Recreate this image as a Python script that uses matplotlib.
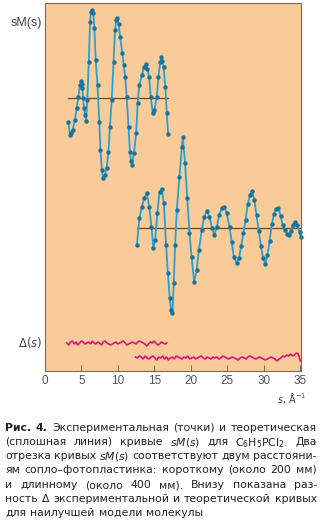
import numpy as np
import matplotlib
matplotlib.use("Agg")
import matplotlib.pyplot as plt

# upper sM(s) segment (short distance), values relative to its baseline
s_short = [3.2, 3.43, 3.6, 3.8, 4.1, 4.35, 4.57, 4.8, 4.94, 5.05, 5.13, 5.22, 5.35, 5.49, 5.63,
           5.8, 6.0, 6.18, 6.3, 6.45, 6.63, 6.77, 6.95, 7.2, 7.45, 7.6, 7.8, 7.96, 8.2, 8.45,
           8.7, 8.9, 9.15, 9.4, 9.6, 9.75, 9.93, 10.1, 10.3, 10.6, 10.8, 11.0, 11.2, 11.45,
           11.65, 11.8, 11.94, 12.2, 12.5, 12.7, 12.95, 13.27, 13.6, 13.86, 14.05, 14.27, 14.5,
           14.78, 15.0, 15.33, 15.55, 15.8, 15.95, 16.1, 16.25, 16.5, 16.7, 16.88]
sm_short = [-24, -37, -35, -32, -22, -10, 1, 13, 17, 14, 10, 0, -10, -17, -23,
            -2, 36, 76, 86, 88, 85, 70, 38, 13, -24, -52, -72, -80, -77, -70,
            -54, -29, -2, 36, 68, 78, 80, 74, 61, 45, 33, 21, 1, -29,
            -54, -63, -67, -55, -35, -5, 13, 23, 31, 34, 29, 21, 1,
            -15, -12, 1, 21, 36, 41, 37, 31, 11, -15, -36]

# lower sM(s) segment (long distance)
s_long = [12.6, 12.95, 13.27, 13.6, 13.95, 14.3, 14.6, 14.86, 15.1, 15.4, 15.7, 16.0, 16.3,
          16.6, 16.85, 17.1, 17.3, 17.47, 17.65, 17.84, 18.07, 18.43, 18.76, 18.9, 19.2,
          19.5, 19.8, 20.1, 20.45, 20.8, 21.1, 21.5, 21.8, 22.2, 22.55, 22.9, 23.2, 23.55,
          23.9, 24.25, 24.6, 24.9, 25.3, 25.6, 25.9, 26.3, 26.6, 26.9, 27.2, 27.5, 27.8,
          28.1, 28.4, 28.7, 29.0, 29.3, 29.6, 29.9, 30.2, 30.5, 30.8, 31.1, 31.4, 31.7,
          32.0, 32.3, 32.6, 32.9, 33.2, 33.4, 33.7, 34.0, 34.3, 34.6, 34.9, 35.1]
sm_long = [-17, 10, 21, 30, 35, 21, 1, -20, -12, 15, 36, 39, 25,
           -17, -45, -70, -82, -85, -55, -17, 18, 51, 81, 91, 65,
           30, -5, -29, -54, -42, -22, -2, 11, 17, 11, 0, -7, 1,
           13, 20, 21, 15, 1, -14, -29, -35, -30, -18, -5, 8, 24,
           33, 37, 28, 13, -3, -18, -30, -36, -27, -13, 4, 14, 19,
           20, 12, 3, -2, -6, -7, -3, 3, 6, 3, -4, -9]

# residuals Delta(s)
d_short = [0, -2, 1, 2, -1, 1, -2, 0, 2, 1, -1, 0, 1, -1, 2, 0, -1, 1, 0, -2, 1, 2, 0, -1,
           -2, -1, 0, 1, -1, 0, 1, 2, 0, -2, -1, 0, 1, 0, -1, 1, 2, 1, 0, -1, -3, -1, 1, 0,
           2, 0, -2, -1, 1, 0, -1, 0]
d_long = [1, 0, 2, 1, -1, 2, 0, -1, 1, 2, 0, -2, 1, 0, 2, -1, 1, -2, 0, 1, -1, 2, 1, 0,
          -1, 1, 0, 2, -1, 0, 1, -1, 0, 1, 2, 0, -1, 1, 0, -1, 1, 0, 1, -1, 0, 2, 1, 0,
          -1, 0, 1, 0, -1, -2, 0, 1, 0, -1, 1, 2, 1, 0, -1, 0, 1, 0, -1, -2, -1, 0, 1, 0,
          -1, -3, -1, 0, 2, 1, 3, 2, 4, 2, 3, 5, 4, -3]

xticks = [0, 5, 10, 15, 20, 25, 30, 35]

# vertical offsets of the four traces
off_short, off_long, off_d1, off_d2 = 273, 143, 28, 13

bg = "#F9CB98"
blue = "#2A9FD2"
dot = "#16759F"
base = "#6B4A2B"
mag = "#E0157C"
frame = "#7A6A5A"

fig = plt.figure(figsize=(3.2, 5.28), dpi=100)
ax = fig.add_axes([45 / 320, 157 / 528, 256 / 320, 368 / 528])
ax.set_facecolor(bg)

ax.plot([s_short[0], s_short[-1]], [off_short, off_short], color=base, lw=0.9)
ax.plot([s_long[0], 35.1], [off_long, off_long], color=base, lw=0.9)

ax.plot(s_short, np.array(sm_short) + off_short, color=blue, lw=1.3,
        marker="o", ms=2.2, mfc=dot, mec=dot)
ax.plot(s_long, np.array(sm_long) + off_long, color=blue, lw=1.3,
        marker="o", ms=2.2, mfc=dot, mec=dot, clip_on=False)

ax.plot(np.linspace(3.0, 16.7, len(d_short)), np.array(d_short) + off_d1, color=mag, lw=1.2)
ax.plot(np.linspace(12.4, 35.0, len(d_long)), np.array(d_long) + off_d2, color=mag, lw=1.2)

ax.set_xlim(0, 35.1)
ax.set_ylim(0, 368)
ax.set_xticks(xticks)
ax.set_xticklabels([str(t) for t in xticks], fontsize=8.5, color="#555555",
                   family="Liberation Sans")
ax.set_yticks([])
ax.tick_params(axis="x", direction="in", length=4, width=0.7, color=frame, pad=3)
for sp in ax.spines.values():
    sp.set_color(frame)
    sp.set_linewidth(0.8)

fig.text(42 / 320, 1 - 23 / 528, "sM(s)", ha="right", va="center", fontsize=9,
         color="#444444", family="Liberation Sans")
fig.text(42 / 320, 1 - 343 / 528, r"$\Delta(s)$", ha="right", va="center", fontsize=8.5, color="#444444")
fig.text(306 / 320, 1 - 398 / 528, r"$s$, Å$^{-1}$", ha="right", va="center", fontsize=7,
         color="#444444")

# caption, justified word by word
caption = [
    ["Рис.", "4.", "Экспериментальная", "(точки)", "и", "теоретическая"],
    ["(сплошная", "линия)", "кривые", "$sM(s)$", "для", "C$_6$H$_5$PCl$_2$.", "Два"],
    ["отрезка", "кривых", "$sM(s)$", "соответствуют", "двум", "расстояни-"],
    ["ям", "сопло–фотопластинка:", "короткому", "(около", "200", "мм)"],
    ["и", "длинному", "(около", "400", "мм).", "Внизу", "показана", "раз-"],
    ["ность", "Δ", "экспериментальной", "и", "теоретической", "кривых"],
    ["для", "наилучшей", "модели", "молекулы"],
]
line_y = [427, 441, 455, 469, 484, 498, 512]
x0, x1 = 5, 317
r = fig.canvas.get_renderer()


def make_line(i, words, yp, size):
    objs = []
    for j, w in enumerate(words):
        bold = i == 0 and j < 2
        objs.append(fig.text(0, 1 - yp / 528, w, fontsize=size, color="#222222",
                             fontweight="bold" if bold else "normal", va="center_baseline"))
    return objs, [t.get_window_extent(r).width for t in objs]


# one common size for all lines, the largest that keeps a gap of 3 px
size = 8.3
while size > 6.5:
    ok = True
    for i, (words, yp) in enumerate(zip(caption[:-1], line_y)):
        objs, widths = make_line(i, words, yp, size)
        for t in objs:
            t.remove()
        if (x1 - x0 - sum(widths)) / (len(objs) - 1) < 3:
            ok = False
            break
    if ok:
        break
    size -= 0.1

for i, (words, yp) in enumerate(zip(caption, line_y)):
    objs, widths = make_line(i, words, yp, size)
    gap = (x1 - x0 - sum(widths)) / (len(objs) - 1)
    if i == len(caption) - 1:
        gap = 4
    x = x0
    for t, w in zip(objs, widths):
        t.set_x(x / 320)
        x += w + gap

fig.savefig("out.png", dpi=100, facecolor="white")
